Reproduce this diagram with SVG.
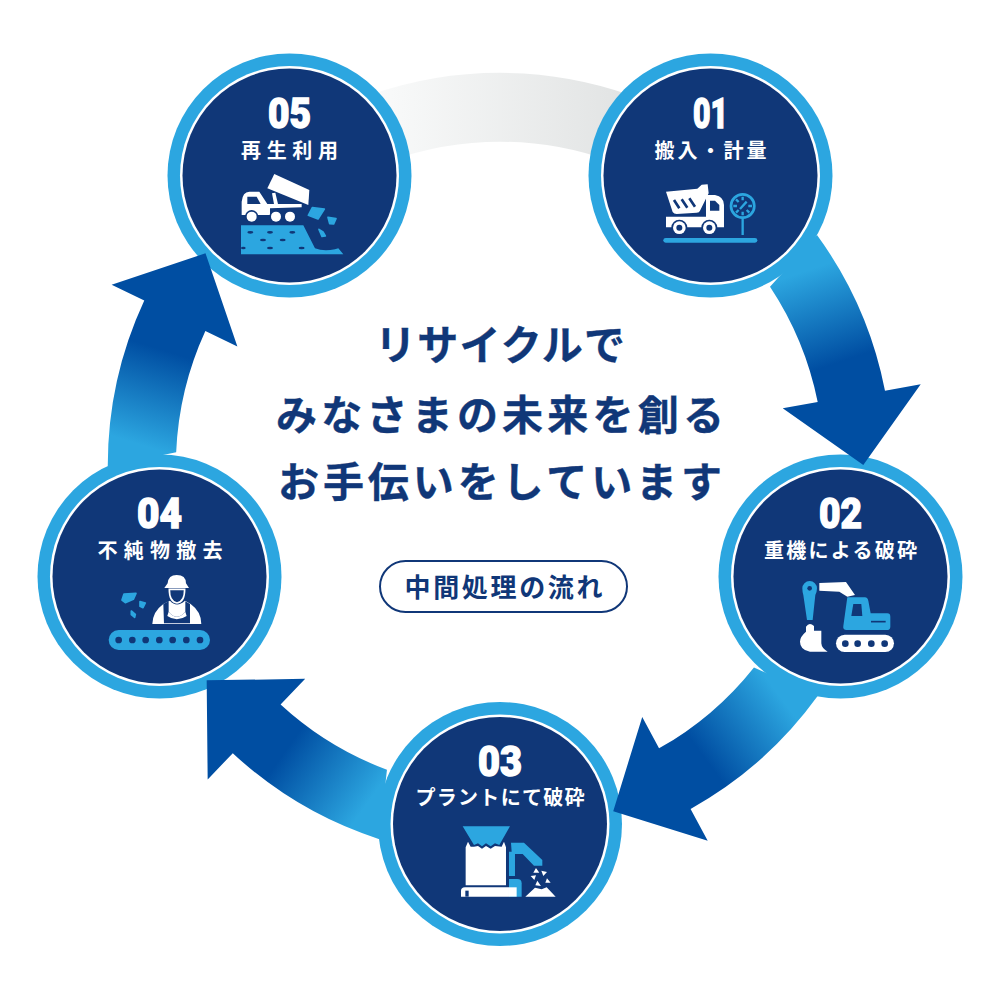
<svg xmlns="http://www.w3.org/2000/svg" xmlns:xlink="http://www.w3.org/1999/xlink" width="1000" height="1000" viewBox="0 0 1000 1000">
<style>
.ring{fill:#2ca6e0}.halo{fill:#fff}.core{fill:#103778}
.num{font-family:Roboto,"Liberation Sans",sans-serif;font-weight:900;font-size:42px;fill:#fff;text-anchor:middle;stroke:#fff;stroke-width:1.4}
.lab{font-family:"Noto Sans CJK JP",sans-serif;font-weight:700;font-size:20px;fill:#fff;text-anchor:middle}
.title{font-family:"Noto Sans CJK JP",sans-serif;font-weight:700;font-size:41px;fill:#103778;text-anchor:middle;stroke:#103778;stroke-width:.4}
.pill{font-family:"Noto Sans CJK JP",sans-serif;font-weight:700;font-size:26px;fill:#103778;text-anchor:middle}
.w{fill:#fff}.b{fill:#2ca6e0}.n{fill:#103778}
.rock{fill:#2ca6e0;stroke:#2ca6e0;stroke-width:5;stroke-linejoin:round}
</style>
<defs>
<linearGradient id="ag" gradientUnits="userSpaceOnUse" x1="803" y1="272" x2="834" y2="364">
<stop offset="0" stop-color="#2ca6e0"/><stop offset="1" stop-color="#004ea2"/>
</linearGradient>
<linearGradient id="gg" gradientUnits="userSpaceOnUse" x1="380" y1="0" x2="620" y2="0">
<stop offset="0" stop-color="#f9fafa"/><stop offset="1" stop-color="#e2e4e4"/>
</linearGradient>
<path id="arrow" fill="url(#ag)" d="M817 235 A392 392 0 0 1 885 390.7 L920.7 384.3 L863.3 465 L782.7 408.3 L817.7 402 A324 324 0 0 0 770 286.7 Z"/>
</defs>
<rect width="1000" height="1000" fill="#fff"/>
<path d="M370 95 A392 392 0 0 1 630 95 L610 161 A324 324 0 0 0 390 161 Z" fill="url(#gg)"/>

<g id="node-01" transform="translate(710.5,175.500)"><circle r="122" class="ring"/><circle r="109.500" class="halo"/><circle r="107" class="core"/></g>
<g id="node-02" transform="translate(840.5,576.5)"><circle r="122" class="ring"/><circle r="109.500" class="halo"/><circle r="107" class="core"/></g>
<g id="node-03" transform="translate(500,824)"><circle r="122" class="ring"/><circle r="109.500" class="halo"/><circle r="107" class="core"/></g>
<g id="node-04" transform="translate(159.5,576.5)"><circle r="122" class="ring"/><circle r="109.500" class="halo"/><circle r="107" class="core"/></g>
<g id="node-05" transform="translate(289.5,175.500)"><circle r="122" class="ring"/><circle r="109.500" class="halo"/><circle r="107" class="core"/></g>

<g id="connectors">
<use xlink:href="#arrow" href="#arrow"/>
<use xlink:href="#arrow" href="#arrow" transform="rotate(72 500 466)"/>
<use xlink:href="#arrow" href="#arrow" transform="rotate(144 500 466)"/>
<use xlink:href="#arrow" href="#arrow" transform="rotate(216 500 466)"/>
</g>

<g id="label-01"><text class="num" x="710.5" y="128" textLength="35" lengthAdjust="spacingAndGlyphs">01</text><text class="lab" x="710.5" y="158" textLength="112">搬入・計量</text>
<g transform="translate(600,80) scale(.3333)">
<path class="w" d="M198 335L292 326L305 314L323 313L326 340L300 392Q298 398 290 398L230 402Q222 402 218 396Z"/>
<path d="M222 360L238 385M245 358L262 383M268 355L285 380" stroke="#103778" stroke-width="8" fill="none"/>
<path class="w" d="M198 410H318V345H345Q372 350 372 375V442H198Z"/>
<path class="n" d="M330 362V392H358V375L345 362Z"/>
<circle cx="238" cy="443" r="24" class="n"/><circle cx="238" cy="443" r="19" class="w"/><circle cx="238" cy="443" r="9" class="n"/>
<circle cx="328" cy="443" r="24" class="n"/><circle cx="328" cy="443" r="19" class="w"/><circle cx="328" cy="443" r="9" class="n"/>
<circle cx="428" cy="378" r="35" fill="none" stroke="#2ca6e0" stroke-width="8"/>
<path d="M428 412V465M420 387L440 365M428 350V361M428 395V406M400 378H411M445 378H456M408 358L416 366M448 398L440 390M408 398L416 390" stroke="#2ca6e0" stroke-width="7" fill="none"/>
<path d="M197 481H465" stroke="#2ca6e0" stroke-width="14" stroke-linecap="round"/>
</g></g>

<g id="label-02"><text class="num" x="840.5" y="528" textLength="43" lengthAdjust="spacingAndGlyphs">02</text><text class="lab" x="840.5" y="558" textLength="153">重機による破砕</text>
<g transform="translate(740,480) scale(.3333)">
<path class="b" d="M187 325A22 22 0 0 1 231 325Q231 335 226 345L218 420H201L190 345Q187 335 187 325Z"/>
<circle cx="209" cy="325" r="7" class="n"/>
<path class="w" d="M198 440Q208 425 222 438V452H244V490Q245 505 263 515H210Q180 510 180 485Q180 470 198 455Z"/>
<path class="w" d="M238 309L318 306L345 345L322 350L298 335L238 332Z"/>
<path class="b" d="M322 352H375Q382 352 385 362L392 400H442Q451 400 451 410V440Q451 450 440 450H320Q308 450 310 438Z"/>
<path class="n" d="M340 372H364L367 408H334Z"/>
<path d="M393 425H437" stroke="#103778" stroke-width="5"/>
<rect x="288" y="464" width="174" height="52" rx="26" class="w"/>
<circle cx="316" cy="491" r="10" class="n"/><circle cx="353" cy="491" r="10" class="n"/><circle cx="394" cy="491" r="10" class="n"/><circle cx="434" cy="491" r="10" class="n"/>
</g></g>

<g id="label-03"><text class="num" x="500" y="776" textLength="44" lengthAdjust="spacingAndGlyphs">03</text><text class="lab" x="500" y="805" textLength="169">プラントにて破砕</text>
<g transform="translate(400,730) scale(.3333)">
<path class="w" d="M197 352L204 335L212 350L222 350L234 348L246 356L258 348L272 356L285 348L305 350L312 335L318 352V466H197Z"/>
<path class="b" d="M188 289H330L298 345L285 340L272 349L258 340L246 349L234 340L222 345Z"/>
<path class="w" d="M183 500V483Q183 472 195 472H328V500Z"/>
<path class="n" d="M196 482H206V500H196Z"/>
<path class="b" d="M333 338H372L427 390V407H402L368 372H345V438H327V365H335Z"/>
<path class="b" d="M327 447H352Q365 447 365 460V500H327Z"/>
<path class="w" d="M327 472H350V500H327Z"/>
<path class="w" d="M376 500L405 473L425 478L440 472L467 500Z"/>
<path class="w" d="M408 414L418 428L400 428ZM424 422L441 426L430 438ZM392 438L408 436L403 450ZM441 445L452 458L436 458ZM412 452L423 468L406 466Z"/>
</g></g>

<g id="label-04"><text class="num" x="159.5" y="528" textLength="45" lengthAdjust="spacingAndGlyphs">04</text><text class="lab" x="160" y="558" textLength="125">不純物撤去</text>
<g transform="translate(60,480) scale(.3333)">
<path class="w" d="M323 310Q325 285 350 285Q378 285 378 310L387 324H313Z"/>
<path class="w" d="M277 432Q278 395 310 372L330 362Q350 385 375 362L392 372Q424 395 424 432Z"/>
<path class="n" d="M310 372L312 430H390V372L376 364V395Q350 425 326 395V364Z"/>
<path class="w" d="M326 395Q350 425 376 395L380 408Q350 428 322 408Z"/>
<path d="M328 328Q328 366 351 369Q374 366 374 328Z" fill="#103778" stroke="#fff" stroke-width="5"/>
<path class="rock" d="M192 342L228 340L220 358L196 368L186 360ZM240 365L256 369L249 383L240 379ZM214 393L226 403L224 412L214 404Z"/>
<rect x="146" y="450" width="304" height="60" rx="30" class="b"/>
<circle cx="176" cy="480" r="10" class="n"/><circle cx="217" cy="480" r="10" class="n"/><circle cx="257" cy="480" r="10" class="n"/><circle cx="298" cy="480" r="10" class="n"/><circle cx="338" cy="480" r="10" class="n"/><circle cx="379" cy="480" r="10" class="n"/><circle cx="420" cy="480" r="10" class="n"/>
</g></g>

<g id="label-05"><text class="num" x="289.5" y="128" textLength="43" lengthAdjust="spacingAndGlyphs">05</text><text class="lab" x="289.5" y="158" textLength="97">再生利用</text>
<g transform="translate(190,80) scale(.3333)">
<path class="w" d="M253 282L358 330L355 375L232 325Z"/>
<path class="w" d="M155 365Q158 335 178 335H208L232 372H252L246 340L256 338L264 372H335V382L240 385V405H155Z"/>
<path class="n" d="M172 350H200L212 372H172Z"/>
<circle cx="185" cy="410" r="20" class="n"/><circle cx="185" cy="410" r="15" class="w"/>
<circle cx="258" cy="410" r="20" class="n"/><circle cx="258" cy="410" r="15" class="w"/>
<circle cx="300" cy="410" r="20" class="n"/><circle cx="300" cy="410" r="15" class="w"/>
<path class="b" d="M153 436H340L375 505Q400 515 435 508L445 505L460 523H153Z"/>
<g class="n"><ellipse cx="181" cy="457" rx="9" ry="4"/><ellipse cx="240" cy="457" rx="9" ry="4"/><ellipse cx="307" cy="457" rx="9" ry="4"/><ellipse cx="219" cy="480" rx="9" ry="4"/><ellipse cx="278" cy="480" rx="9" ry="4"/><ellipse cx="160" cy="504" rx="7" ry="4"/><ellipse cx="240" cy="504" rx="9" ry="4"/><ellipse cx="335" cy="504" rx="9" ry="4"/></g>
<path class="rock" d="M367 383L403 387L384 417L355 406ZM414 412L438 416L431 432L419 431ZM387 448L399 456L406 468L396 469Z"/>
</g></g>

<g id="center">
<text class="title" x="500" y="360" textLength="250">リサイクルで</text>
<text class="title" x="500" y="430" textLength="448">みなさまの未来を創る</text>
<text class="title" x="500" y="497" textLength="444">お手伝いをしています</text>
<rect x="380" y="561" width="247" height="51" rx="25.5" fill="#fff" stroke="#103778" stroke-width="2"/>
<text class="pill" x="503.500" y="597" textLength="198">中間処理の流れ</text>
</g>
</svg>
